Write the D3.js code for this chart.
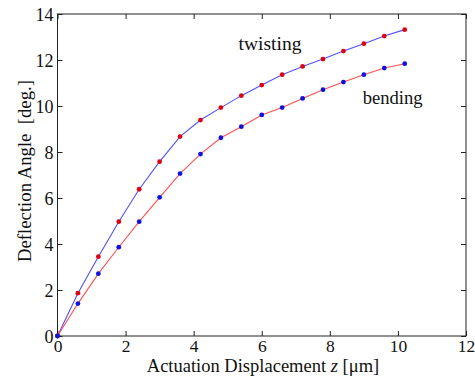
<!DOCTYPE html>
<html><head><meta charset="utf-8">
<script src="https://cdn.jsdelivr.net/npm/d3@7"></script>
<style>body{margin:0;background:#fff}svg{display:block}</style>
</head><body>
<script>
const xValues = [0,0.6,1.2,1.8,2.4,3.0,3.6,4.2,4.8,5.4,6.0,6.6,7.2,7.8,8.4,9.0,9.6,10.2];
const twisting = [0,1.86,3.45,4.97,6.38,7.58,8.67,9.39,9.93,10.45,10.91,11.36,11.72,12.04,12.39,12.71,13.04,13.32];
const bending  = [0,1.41,2.71,3.86,4.97,6.03,7.06,7.91,8.62,9.10,9.61,9.93,10.33,10.71,11.04,11.36,11.65,11.84];
const xTicks = [0,2,4,6,8,10,12];
const yTicks = [0,2,4,6,8,10,12,14];

const FONT="Liberation Serif";
const W=475,H=382;
const m={l:57.5,r:466,t:14,b:336};
const svg=d3.select("body").append("svg").attr("width",W).attr("height",H);
const x=d3.scaleLinear().domain([0,12]).range([m.l,m.r]);
const y=d3.scaleLinear().domain([0,14]).range([m.b,m.t]);

const tl=5;
function style(g){g.attr("font-family",FONT).attr("font-size",18);g.select(".domain").remove();
  g.selectAll("text").attr("font-family",FONT).attr("font-size",18).attr("fill","#111");}
svg.append("g").attr("transform",`translate(0,${m.b})`)
  .call(d3.axisBottom(x).tickValues(xTicks).tickSizeInner(-tl).tickSizeOuter(0))
  .call(g=>{style(g);g.selectAll("text").attr("font-size",17.5).attr("y",16).attr("dy",0);});
svg.append("g").attr("transform",`translate(0,${m.t})`)
  .call(d3.axisTop(x).tickValues(xTicks).tickSizeInner(-tl).tickSizeOuter(0).tickFormat(""))
  .call(style);
svg.append("g").attr("transform",`translate(${m.l},0)`)
  .call(d3.axisLeft(y).tickValues(yTicks).tickSizeInner(-tl).tickSizeOuter(0))
  .call(g=>{style(g);g.selectAll("text").attr("x",-4).attr("dy","0.34em");});
svg.append("g").attr("transform",`translate(${m.r},0)`)
  .call(d3.axisRight(y).tickValues(yTicks).tickSizeInner(-tl).tickSizeOuter(0).tickFormat(""))
  .call(style);
svg.selectAll(".tick line").attr("stroke","#222");
svg.append("rect").attr("x",m.l).attr("y",m.t).attr("width",m.r-m.l).attr("height",m.b-m.t)
  .attr("fill","none").attr("stroke","#222").attr("stroke-width",1);

const line=d3.line().x((d,i)=>x(xValues[i])).y(d=>y(d));
svg.append("path").datum(twisting).attr("d",line).attr("fill","none").attr("stroke","#5050ff").attr("stroke-width",1.1);
svg.append("path").datum(bending).attr("d",line).attr("fill","none").attr("stroke","#ff5050").attr("stroke-width",1.1);
svg.append("g").selectAll("circle").data(twisting).join("circle")
  .attr("cx",(d,i)=>x(xValues[i])).attr("cy",d=>y(d)).attr("r",2.4).attr("fill","#e00010");
svg.append("g").selectAll("circle").data(bending).join("circle")
  .attr("cx",(d,i)=>x(xValues[i])).attr("cy",d=>y(d)).attr("r",2.4).attr("fill","#1010e0");

function fit(t,target,maxFs){const n=t.node();const L=n.getComputedTextLength();
  const fs=+t.attr("font-size");if(L>0){t.attr("font-size",Math.max(14,Math.min(maxFs,fs*target/L)));}}

const tw=svg.append("text").attr("x",238.5).attr("y",50).attr("font-family",FONT).attr("font-size",19).attr("fill","#111").text("twisting");
fit(tw,63,22);
const bd=svg.append("text").attr("x",362.7).attr("y",104).attr("font-family",FONT).attr("font-size",19).attr("fill","#111").text("bending");
fit(bd,60,22);

const xl=svg.append("text").attr("x",263).attr("y",372).attr("text-anchor","middle").attr("font-family",FONT).attr("font-size",18.5).attr("fill","#111");
xl.append("tspan").text("Actuation Displacement ");
xl.append("tspan").attr("font-style","italic").text("z");
xl.append("tspan").text(" [\u03bcm]");
fit(xl,236,18.5);
const yl=svg.append("text").attr("transform",`translate(31,171) rotate(-90)`).attr("text-anchor","middle")
  .attr("font-family",FONT).attr("font-size",19).attr("fill","#111").style("white-space","pre").text("Deflection Angle  [deg.]");
fit(yl,182,20);
</script>
</body></html>
